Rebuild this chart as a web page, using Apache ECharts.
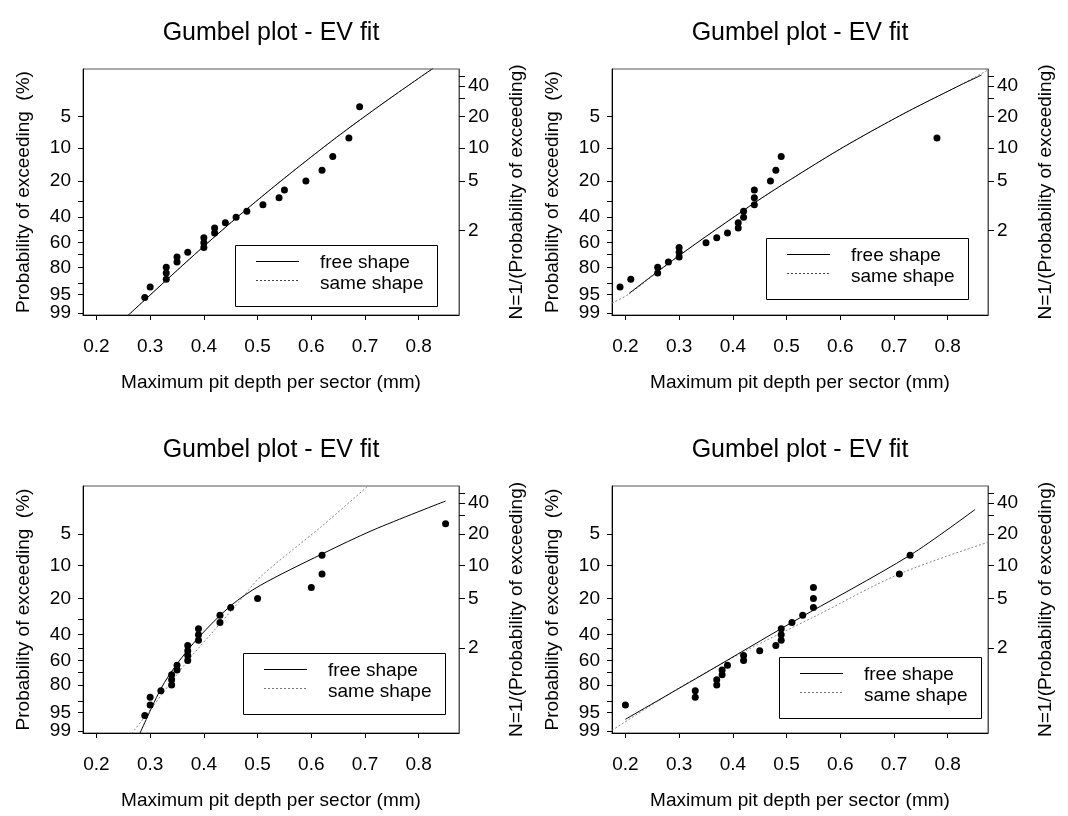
<!DOCTYPE html>
<html><head><meta charset="utf-8">
<script src="https://cdn.jsdelivr.net/npm/echarts@6/dist/echarts.min.js"></script>
<style>html,body{margin:0;padding:0;background:#fff}#c{width:1068px;height:816px}</style>
</head><body><div id="c"></div>
<script>
// ---- data (depth in mm, probability of exceeding in %) ----
const depthTL = [0.69,0.67,0.64,0.62,0.59,0.55,0.54,0.51,0.48,0.46,0.44,0.42,0.42,0.40,0.40,0.40,0.37,0.35,0.35,0.33,0.33,0.33,0.30,0.29];
const probTL  = [4,8,12,16,20,24,28,32,36,40,44,48,52,56,60,64,68,72,76,80,84,88,92,96];
const freeTLx = [0.259,0.33,0.40,0.467,0.55,0.647,0.737,0.827];
const freeTLp = [99.2,88.5,63.0,38.5,18.9,7.9,3.6,1.68];
const sameTLx = [0.259,0.33,0.40,0.467,0.55,0.647,0.737,0.827];
const sameTLp = [99.2,88.5,63.0,38.5,18.9,7.9,3.6,1.68];

const depthTR = [0.78,0.49,0.48,0.47,0.44,0.44,0.44,0.42,0.42,0.41,0.41,0.39,0.37,0.35,0.30,0.30,0.30,0.28,0.26,0.26,0.21,0.19];
const probTR  = [8,12,16,20,24,28,32,36,40,44,48,52,56,60,64,68,72,76,80,84,88,92];
const freeTRx = [0.207,0.30,0.44,0.507,0.605,0.717,0.817,0.863];
const freeTRp = [94.6,70.8,30.9,19.5,9.84,4.71,2.56,1.96];
const sameTRx = [0.175,0.207,0.30,0.44,0.507,0.605,0.717,0.817,0.875];
const sameTRp = [97.4,94.8,70.8,30.9,19.5,9.84,4.71,2.56,1.75];

const depthBL = [0.85,0.62,0.62,0.60,0.50,0.45,0.43,0.43,0.39,0.39,0.39,0.37,0.37,0.37,0.37,0.35,0.35,0.34,0.34,0.34,0.32,0.30,0.30,0.29];
const probBL  = [4,8,12,16,20,24,28,32,36,40,44,48,52,56,60,64,68,72,76,80,84,88,92,96];
const freeBLx = [0.281,0.32,0.35,0.39,0.45,0.505,0.62,0.715,0.85];
const freeBLp = [99.2,82.6,63.0,42.0,23.2,15.3,7.8,4.6,2.4];
const sameBLx = [0.266,0.30,0.37,0.42,0.467,0.505,0.62,0.706];
const sameBLp = [99.2,94.1,60.3,36.7,21,12.8,4.2,1.7];

const depthBR = [0.73,0.71,0.55,0.55,0.55,0.53,0.51,0.49,0.49,0.49,0.48,0.45,0.42,0.42,0.39,0.38,0.38,0.37,0.37,0.33,0.33,0.20];
const probBR  = [8,12,16,20,24,28,32,36,40,44,48,52,56,60,64,68,72,76,80,84,88,92];
const freeBRx = [0.20,0.35,0.51,0.73,0.851];
const freeBRp = [97.0,70.3,32,8,2.9];
const sameBRx = [0.175,0.30,0.42,0.55,0.71,0.876];
const sameBRp = [98.9,82,53,29,12,6.0];

// ---- axis tick labels ----
const probLabels = [5,10,20,40,60,80,95];
const probLabelsLow = [99];
const probTicks  = [5,10,20,30,40,50,60,70,80,90,95,99];
const retLabels  = [40,20,10,5,2];
const retTicks   = [50,40,30,20,10,5,2];
const xLabels    = [0.2,0.3,0.4,0.5,0.6,0.7,0.8];
const legendNames = ['free shape', 'same shape'];

const titleText = 'Gumbel plot - EV fit';
const xName = 'Maximum pit depth per sector (mm)';
const yName = 'Probability of exceeding  (%)';
const y2Name = 'N=1/(Probability of exceeding)';

// Gumbel reduced variate of an exceedance probability (%)
const gum = p => -Math.log(-Math.log(1 - p / 100));
const nearest = (v, arr, f) => { let b = arr[0], d = 1e9; arr.forEach(a => { const e = Math.abs(f(a) - v); if (e < d) { d = e; b = a; } }); return b; };

const FONT = "'Liberation Sans', Arial, Helvetica, sans-serif";
const YMIN = -1.567, YMAX = 4.06;
const DOT_GREY = '#8a8a8a';

const panels = [
  {depth: depthTL, prob: probTL, fx: freeTLx, fp: freeTLp, sx: sameTLx, sp: sameTLp, grid: {left: 83, top: 69, width: 376, height: 246}, leg: [235, 245], legDot: '#444'},
  {depth: depthTR, prob: probTR, fx: freeTRx, fp: freeTRp, sx: sameTRx, sp: sameTRp, grid: {left: 612, top: 69, width: 376, height: 246}, leg: [766, 238], legDot: '#444'},
  {depth: depthBL, prob: probBL, fx: freeBLx, fp: freeBLp, sx: sameBLx, sp: sameBLp, grid: {left: 83, top: 486, width: 376, height: 247}, leg: [243, 653], legDot: '#777'},
  {depth: depthBR, prob: probBR, fx: freeBRx, fp: freeBRp, sx: sameBRx, sp: sameBRp, grid: {left: 612, top: 486, width: 376, height: 247}, leg: [779, 657], legDot: '#777'}
];

const grid = [], xAxis = [], yAxis = [], series = [], graphic = [];
const labelStyle = {fontFamily: FONT, fontSize: 19, color: '#000'};
const yLabelStyle = {fontFamily: FONT, fontSize: 19, color: '#000', lineHeight: 15};
panels.forEach((P, i) => {
  grid.push(Object.assign({show: true, borderColor: '#555', borderWidth: 1, containLabel: false, outerBoundsMode: 'none'}, P.grid));
  xAxis.push({
    gridIndex: i, type: 'value', min: 0.175, max: 0.875,
    name: xName, nameLocation: 'middle', nameGap: 58, nameTextStyle: labelStyle,
    axisLine: {show: true, onZero: false, lineStyle: {color: '#000', width: 1}},
    axisTick: {show: true, length: 5, customValues: xLabels, lineStyle: {color: '#000'}},
    axisLabel: Object.assign({customValues: xLabels, margin: 22, showMinLabel: true, showMaxLabel: true, hideOverlap: false,
      formatter: v => v.toFixed(1)}, labelStyle),
    splitLine: {show: false}
  });
  const base = 3 * i;
  yAxis.push({
    gridIndex: i, type: 'value', position: 'left', min: YMIN, max: YMAX,
    name: yName, nameLocation: 'middle', nameGap: 50, nameRotate: 90, nameTextStyle: labelStyle,
    axisLine: {show: true, onZero: false, lineStyle: {color: '#000', width: 1}},
    axisTick: {show: true, length: 5, customValues: probTicks.map(gum), lineStyle: {color: '#000'}},
    axisLabel: Object.assign({customValues: probLabels.map(gum), margin: 12, showMinLabel: true, showMaxLabel: true, hideOverlap: false,
      formatter: v => String(nearest(v, probLabels, gum))}, yLabelStyle),
    splitLine: {show: false}
  });
  yAxis.push({
    gridIndex: i, type: 'value', position: 'right', min: YMIN, max: YMAX,
    name: y2Name, nameLocation: 'middle', nameGap: 48, nameRotate: 90, nameTextStyle: labelStyle,
    axisLine: {show: true, onZero: false, lineStyle: {color: '#555', width: 1}},
    axisTick: {show: true, length: 6, customValues: retTicks.map(n => gum(100 / n)), lineStyle: {color: '#000'}},
    axisLabel: Object.assign({customValues: retLabels.map(n => gum(100 / n)), margin: 9, showMinLabel: true, showMaxLabel: true, hideOverlap: false,
      formatter: v => String(nearest(v, retLabels, n => gum(100 / n)))}, yLabelStyle),
    splitLine: {show: false}
  });
  // second left axis carrying only the lowest label (99), so it is not dropped for crowding
  yAxis.push({
    gridIndex: i, type: 'value', position: 'left', offset: 0, min: YMIN, max: YMAX,
    axisLine: {show: false}, axisTick: {show: false}, splitLine: {show: false},
    axisLabel: Object.assign({customValues: probLabelsLow.map(gum), margin: 12, showMinLabel: true, showMaxLabel: true, hideOverlap: false,
      formatter: v => String(nearest(v, probLabelsLow, gum))}, yLabelStyle)
  });
  series.push({
    name: legendNames[1], type: 'line', xAxisIndex: i, yAxisIndex: base, smooth: 0.3, symbol: 'none', clip: true,
    lineStyle: {color: DOT_GREY, width: 1, type: [2, 2]}, itemStyle: {color: DOT_GREY},
    data: P.sx.map((x, k) => [x, gum(P.sp[k])]), z: 2
  });
  series.push({
    name: legendNames[0], type: 'line', xAxisIndex: i, yAxisIndex: base, smooth: 0.3, symbol: 'none', clip: true,
    lineStyle: {color: '#000', width: 1}, itemStyle: {color: '#000'},
    data: P.fx.map((x, k) => [x, gum(P.fp[k])]), z: 3
  });
  series.push({
    name: 'data', type: 'scatter', xAxisIndex: i, yAxisIndex: base, symbol: 'circle', symbolSize: 7,
    itemStyle: {color: '#000', opacity: 1}, data: P.depth.map((x, k) => [x, gum(P.prob[k])]), z: 4
  });
  // legend box
  graphic.push({
    type: 'group', x: P.leg[0], y: P.leg[1], z: 100,
    children: [
      {type: 'rect', shape: {x: 0.5, y: 0.5, width: 202, height: 61}, style: {fill: '#fff', stroke: '#000', lineWidth: 1}},
      {type: 'line', shape: {x1: 21, y1: 16.5, x2: 64, y2: 16.5}, style: {stroke: '#000', lineWidth: 1}},
      {type: 'line', shape: {x1: 21, y1: 35.5, x2: 64, y2: 35.5}, style: {stroke: P.legDot, lineWidth: 1, lineDash: [2, 2]}},
      {type: 'text', x: 85, y: 18, style: {text: legendNames[0], font: '19px ' + FONT, fill: '#000', verticalAlign: 'middle'}},
      {type: 'text', x: 85, y: 39, style: {text: legendNames[1], font: '19px ' + FONT, fill: '#000', verticalAlign: 'middle'}}
    ]
  });
  graphic.push({
    type: 'text', x: P.grid.left + P.grid.width / 2, y: P.grid.top - 36, z: 100,
    style: {text: titleText, font: '25px ' + FONT, fill: '#000', align: 'center', verticalAlign: 'middle'}
  });
});

const chart = echarts.init(document.getElementById('c'), null, {renderer: 'canvas'});
chart.setOption({backgroundColor: '#fff', animation: false, grid, xAxis, yAxis, series, graphic});
</script></body></html>
